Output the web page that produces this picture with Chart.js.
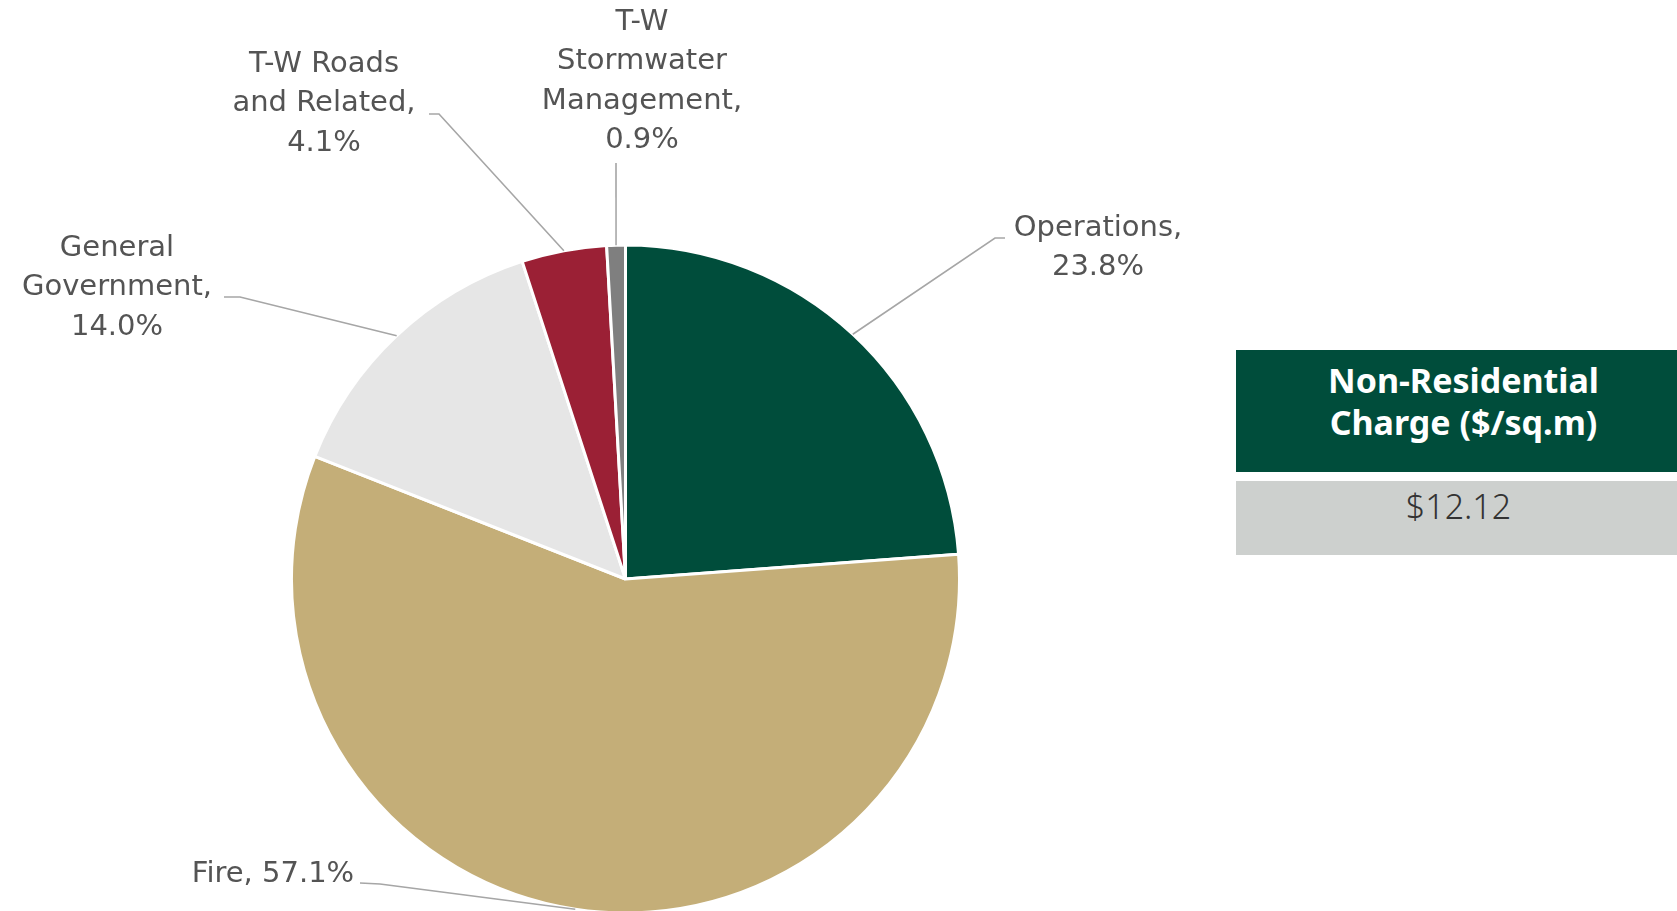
<!DOCTYPE html>
<html>
<head>
<meta charset="utf-8">
<title>Non-Residential Charge</title>
<script src="https://cdn.jsdelivr.net/npm/chart.js@4/dist/chart.umd.min.js"></script>
<style>
  html, body { margin: 0; padding: 0; background: #fff; }
  body { width: 1677px; height: 911px; position: relative; overflow: hidden; }
  /* canvas runs a few px past the bottom so the pie can touch the edge */
  #wrap { position: absolute; left: 0; top: 0; width: 1677px; height: 916px; }
  .charge-head {
    position: absolute; left: 1236px; top: 350px; width: 441px; height: 122px;
    background: #004d3b; color: #fff;
    font-family: "Noto Sans", sans-serif; font-weight: bold; font-size: 34px; line-height: 42px;
    text-align: center; box-sizing: border-box; padding-left: 14px; padding-top: 9px;
  }
  .charge-value {
    position: absolute; left: 1236px; top: 481px; width: 441px; height: 74px;
    background: #cdd0ce; color: #333;
    font-family: "Noto Sans", sans-serif; font-weight: 300; font-size: 34px; line-height: 50px;
    text-align: center; box-sizing: border-box; padding-left: 4px;
  }
</style>
</head>
<body>
<div id="wrap"><canvas id="pieChart"></canvas></div>
<div class="charge-head">Non-Residential<br>Charge ($/sq.m)</div>
<div class="charge-value">$12.12</div>

<script>
// --- data ---
const categories = ['Operations', 'Fire', 'General Government', 'T-W Roads and Related', 'T-W Stormwater Management'];
const shares = [23.8, 57.1, 14.0, 4.1, 0.9];
const sliceColors = ['#004d3b', '#c4ae78', '#e6e6e6', '#9b2035', '#7f7f7f'];

// label text for each slice (name lines, value appended)
const labelLines = [
  ['Operations,', '23.8%'],
  ['Fire, 57.1%'],
  ['General', 'Government,', '14.0%'],
  ['T-W Roads', 'and Related,', '4.1%'],
  ['T-W', 'Stormwater', 'Management,', '0.9%']
];

// where each label sits (centre x, first line y) and where its leader bends
const labelSpots = [
  { x: 1098, y: 228, elbow: [[1005, 238], [995, 238]] },
  { x: 273,  y: 874, elbow: [[360, 883], [380, 884]] },
  { x: 117,  y: 248, elbow: [[224, 297], [240, 297]] },
  { x: 324,  y: 64,  elbow: [[429, 114], [439, 114]] },
  { x: 642,  y: 22,  elbow: [[616, 163]] }
];

// draws the outside labels with their leader lines
const leaderLabels = {
  id: 'leaderLabels',
  afterDraw(chart) {
    const ctx = chart.ctx;
    const arcs = chart.getDatasetMeta(0).data;
    ctx.save();
    arcs.forEach((arc, i) => {
      const spot = labelSpots[i];
      const mid = (arc.startAngle + arc.endAngle) / 2;
      const sx = arc.x + Math.cos(mid) * arc.outerRadius;
      const sy = arc.y + Math.sin(mid) * arc.outerRadius;
      const pts = spot.elbow;
      ctx.strokeStyle = '#a6a6a6';
      ctx.lineWidth = 1.6;
      ctx.beginPath();
      ctx.moveTo(pts[0][0], pts[0][1]);
      for (let k = 1; k < pts.length; k++) ctx.lineTo(pts[k][0], pts[k][1]);
      ctx.lineTo(sx, sy);
      ctx.stroke();

      ctx.fillStyle = '#545454';
      ctx.font = '29px "DejaVu Sans", sans-serif';
      ctx.textAlign = 'center';
      ctx.textBaseline = 'middle';
      labelLines[i].forEach((line, j) => {
        ctx.fillText(line, spot.x, spot.y + j * 39.5);
      });
    });
    ctx.restore();
  }
};

const ctx = document.getElementById('pieChart').getContext('2d');
new Chart(ctx, {
  type: 'pie',
  data: {
    labels: categories,
    datasets: [{
      data: shares,
      backgroundColor: sliceColors,
      borderColor: '#ffffff',
      borderWidth: 3
    }]
  },
  options: {
    responsive: true,
    maintainAspectRatio: false,
    animation: false,
    layout: { padding: { left: 290, right: 716, top: 242, bottom: 0 } },
    plugins: { legend: { display: false }, tooltip: { enabled: false } }
  },
  plugins: [leaderLabels]
});
</script>
</body>
</html>
